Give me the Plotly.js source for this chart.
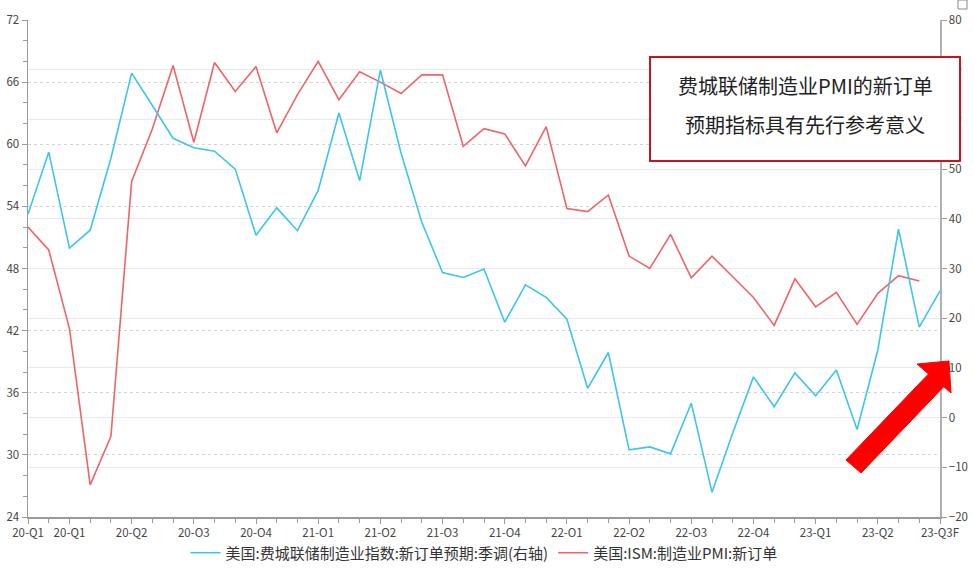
<!DOCTYPE html>
<html>
<head>
<meta charset="utf-8">
<script src="https://cdn.plot.ly/plotly-3.0.1.min.js"></script>
<style>html,body{margin:0;padding:0;background:#fff;}#chart{width:974px;height:568px;}</style>
</head>
<body>
<div id="chart"></div>
<script>
// Months Jan 2020 .. Sep 2023
const months = ["2020-01","2020-02","2020-03","2020-04","2020-05","2020-06","2020-07","2020-08","2020-09","2020-10","2020-11","2020-12",
"2021-01","2021-02","2021-03","2021-04","2021-05","2021-06","2021-07","2021-08","2021-09","2021-10","2021-11","2021-12",
"2022-01","2022-02","2022-03","2022-04","2022-05","2022-06","2022-07","2022-08","2022-09","2022-10","2022-11","2022-12",
"2023-01","2023-02","2023-03","2023-04","2023-05","2023-06","2023-07","2023-08","2023-09"];

// 美国:费城联储制造业指数:新订单预期:季调 (right axis)
const phillyNewOrdersExp = [40.9,53.4,34.1,37.7,52.2,69.3,62.8,56.2,54.3,53.6,50.0,36.7,
42.2,37.6,45.7,61.3,47.7,69.9,53.2,39.3,29.2,28.2,29.9,19.2,
26.7,24.2,19.8,5.9,13.1,-6.5,-5.9,-7.3,2.9,-15.0,-3.1,8.2,
2.2,9.0,4.4,9.6,-2.4,13.6,37.9,18.2,25.5];

// 美国:ISM:制造业PMI:新订单 (left axis)
const ismNewOrders = [52.0,49.8,42.2,27.1,31.8,56.4,61.5,67.6,60.2,67.9,65.1,67.5,
61.1,64.8,68.0,64.3,67.0,66.0,64.9,66.7,66.7,59.8,61.5,61.0,
57.9,61.7,53.8,53.5,55.1,49.2,48.0,51.3,47.1,49.2,47.2,45.2,
42.5,47.0,44.3,45.7,42.6,45.6,47.3,46.8];

const tickMonths = ["2020-01","2020-03","2020-06","2020-09","2020-12","2021-03","2021-06","2021-09","2021-12",
"2022-03","2022-06","2022-09","2022-12","2023-03","2023-06","2023-09"];
const tickLabels = ["20-Q1","20-Q1","20-Q2","20-Q3","20-Q4","21-Q1","21-Q2","21-Q3","21-Q4",
"22-Q1","22-Q2","22-Q3","22-Q4","23-Q1","23-Q2","23-Q3F"];

const seriesNames = ["美国:费城联储制造业指数:新订单预期:季调(右轴)","美国:ISM:制造业PMI:新订单"];
const noteLines = ["费城联储制造业PMI的新订单","预期指标具有先行参考意义"];

const xIdx = months.map((m,i)=>i);
const tickIdx = tickMonths.map(m=>months.indexOf(m));

const FONT = "Noto Sans CJK SC, Noto Sans, sans-serif";

const traces = [
  {x: xIdx.slice(0, phillyNewOrdersExp.length), y: phillyNewOrdersExp, name: seriesNames[0], yaxis:'y2',
   type:'scatter', mode:'lines', line:{color:'#3ec4ef', width:1.6}},
  {x: xIdx.slice(0, ismNewOrders.length), y: ismNewOrders, name: seriesNames[1], yaxis:'y',
   type:'scatter', mode:'lines', line:{color:'#ef6464', width:1.6}}
];

// pixel -> paper helpers for decorations
const L=28, R=940, T=20, B=517;
const px = v => (v-L)/(R-L);
const py = v => (B-v)/(B-T);

const arrowPts = [[846,460],[928.5,373.9],[917,364],[949,361],[951,393],[943.7,386.7],[861,473]];
const arrowPath = 'M ' + arrowPts.map(p=>px(p[0]).toFixed(4)+','+py(p[1]).toFixed(4)).join(' L ') + ' Z';

const layout = {
  width:974, height:568,
  margin:{l:L, r:974-R, t:T, b:568-B, autoexpand:false},
  paper_bgcolor:'#ffffff', plot_bgcolor:'#ffffff',
  font:{family:FONT, size:11, color:'#444'},
  showlegend:true,
  hovermode:false,
  legend:{orientation:'h', x:0.5, xanchor:'center', y:py(553), yanchor:'middle',
    font:{family:FONT, size:15, color:'#333'}, itemwidth:30, tracegroupgap:0},
  xaxis:{range:[0,44], tickmode:'array', tickvals:tickIdx, ticktext:tickLabels,
    showline:true, linecolor:'#9a9a9a', linewidth:1.5, ticks:'outside', ticklen:5, tickcolor:'#9a9a9a',
    showgrid:false, zeroline:false, tickfont:{size:11.5, color:'#444'},
    minor:{dtick:1, tick0:0, ticks:'outside', ticklen:4, tickcolor:'#9a9a9a', showgrid:false}},
  yaxis:{range:[24,72], dtick:6, tick0:24, showline:true, linecolor:'#9a9a9a', linewidth:1.5,
    ticks:'outside', ticklen:5, tickcolor:'#9a9a9a', zeroline:false,
    showgrid:true, gridcolor:'#d4d4d4', griddash:'dot', gridwidth:1,
    tickfont:{size:11.5, color:'#444'},
    minor:{dtick:2, tick0:24, ticks:'outside', ticklen:4, tickcolor:'#9a9a9a', showgrid:false}},
  yaxis2:{range:[-20,80], dtick:10, tick0:-20, overlaying:'y', side:'right', showline:true,
    linecolor:'#b0b0b0', linewidth:1.5, ticks:'outside', ticklen:5, tickcolor:'#9a9a9a', zeroline:false,
    showgrid:true, gridcolor:'#e8e8f0', gridwidth:1, tickfont:{size:11.5, color:'#444'}},
  shapes:[
    {type:'rect', xref:'paper', yref:'paper', x0:px(650), x1:px(960), y0:py(161), y1:py(57),
     line:{color:'#c8141c', width:2}, fillcolor:'#ffffff', layer:'above'},
    {type:'path', xref:'paper', yref:'paper', path:arrowPath, fillcolor:'#ff0000', line:{color:'#ff0000', width:1}, layer:'above'},
    {type:'rect', xref:'paper', yref:'paper', x0:px(958), x1:px(967), y0:py(9), y1:py(0),
     line:{color:'#888', width:1}, fillcolor:'rgba(0,0,0,0)'}
  ],
  annotations:[
    {xref:'paper', yref:'paper', x:px(805), y:py(86), text:noteLines[0], showarrow:false,
     xanchor:'center', yanchor:'middle', font:{family:FONT, size:20, color:'#222'}},
    {xref:'paper', yref:'paper', x:px(805), y:py(124), text:noteLines[1], showarrow:false,
     xanchor:'center', yanchor:'middle', font:{family:FONT, size:20, color:'#222'}}
  ]
};

Plotly.newPlot('chart', traces, layout, {displayModeBar:false, staticPlot:true});
</script>
</body>
</html>
